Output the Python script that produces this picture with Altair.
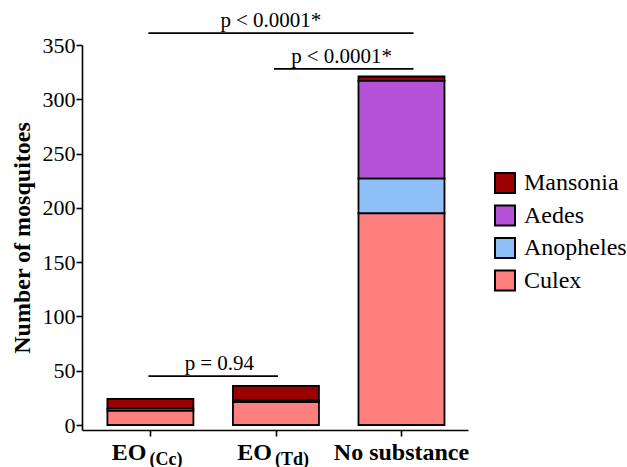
import altair as alt
import pandas as pd

# ---------------- data ----------------
categories = ["EO (Cc)", "EO (Td)", "No substance"]
label_main = ["EO", "EO", "No substance"]
label_sub = ["(Cc)", "(Td)", ""]

species = ["Mansonia", "Aedes", "Anopheles", "Culex"]      # legend order
stack_rank = [3, 2, 1, 0]                                   # 0 = bottom of stack
colors = ["#9B0000", "#B452D8", "#8FBFF7", "#FF7F7F"]

culex = [13, 21, 195]
anopheles = [0, 0, 32]
aedes = [2, 2, 90]
mansonia = [9, 13, 4]

y_ticks = [0, 50, 100, 150, 200, 250, 300, 350]

ann_from = ["EO (Cc)", "EO (Td)", "EO (Cc)"]
ann_to = ["No substance", "No substance", "EO (Td)"]
ann_y = [361, 328, 45]
ann_p = ["p", "p", "p"]
ann_rest = ["< 0.0001*", "< 0.0001*", "= 0.94"]

# ---------------- tables ----------------
counts = {"Culex": culex, "Anopheles": anopheles, "Aedes": aedes, "Mansonia": mansonia}
rows = []
for i, cat in enumerate(categories):
    for sp, rk in zip(species, stack_rank):
        v = counts[sp][i]
        if v > 0:
            rows.append({"category": cat, "idx": i, "species": sp, "rank": rk, "count": v})
bars_df = pd.DataFrame(rows)

lab_df = pd.DataFrame({"idx": list(range(len(categories))), "main": label_main, "sub": label_sub})

ann_df = pd.DataFrame({
    "x_from": [categories.index(c) for c in ann_from],
    "x_to": [categories.index(c) for c in ann_to],
    "y": ann_y, "p": ann_p, "rest": ann_rest,
})
ann_df["mid"] = (ann_df["x_from"] + ann_df["x_to"]) / 2

FONT = "Liberation Serif"
BFONT = "Times New Roman"
xscale = alt.Scale(domain=[-0.505, 2.49], nice=False, zero=False)
yscale = alt.Scale(domain=[-4.6, 350], nice=False, zero=False)

x_axis = alt.Axis(values=[0, 1, 2], labels=False, ticks=True, tickSize=6, tickWidth=1.6,
                  tickColor="black", domainColor="black", domainWidth=1.6, grid=False)
y_axis = alt.Axis(values=y_ticks, grid=False, tickSize=6, tickWidth=1.6, tickColor="black",
                  domainColor="black", domainWidth=1.6, labelFont=FONT, labelFontSize=22,
                  labelColor="black", labelPadding=1, title="Number of mosquitoes",
                  titleFont=BFONT, titleFontSize=24, titleFontWeight="bold", titleColor="black",
                  titleX=-60, titleY=192.5, titleBaseline="middle", titleAngle=270)

bars = alt.Chart(bars_df).mark_bar(size=86, stroke="black", strokeWidth=1.8).encode(
    x=alt.X("idx:Q", scale=xscale, axis=x_axis, title=None),
    y=alt.Y("sum(count):Q", scale=yscale, axis=y_axis, stack="zero"),
    color=alt.Color("species:N",
                    scale=alt.Scale(domain=species, range=colors),
                    legend=alt.Legend(title=None, orient="none", legendX=411, legendY=126,
                                      symbolType="square", symbolSize=400,
                                      symbolStrokeColor="black", symbolStrokeWidth=2,
                                      symbolOpacity=1, labelFont=FONT, labelFontSize=24,
                                      labelColor="black",
                                      labelOffset=7, rowPadding=4.5, labelLimit=300)),
    order=alt.Order("rank:Q", sort="ascending"),
)

layers = [bars]

# significance rules
long_rules = alt.Chart(ann_df).transform_filter("datum.x_to == 2").mark_rule(
    color="black", strokeWidth=1.8, xOffset=-2, x2Offset=12).encode(
    x=alt.X("x_from:Q", scale=xscale), x2="x_to:Q", y=alt.Y("y:Q", scale=yscale))
short_rules = alt.Chart(ann_df).transform_filter("datum.x_to != 2").mark_rule(
    color="black", strokeWidth=1.8, xOffset=-2, x2Offset=2).encode(
    x=alt.X("x_from:Q", scale=xscale), x2="x_to:Q", y=alt.Y("y:Q", scale=yscale))
layers += [long_rules, short_rules]

# significance texts (p + rest, with a gap of about one space)
text_dx = [-45, -37, -18]
GAP = 5
for k in range(len(ann_df)):
    base = alt.Chart(ann_df).transform_filter(f"datum.x_from == {ann_df.x_from[k]} && datum.x_to == {ann_df.x_to[k]}")
    layers.append(base.mark_text(font=FONT, fontSize=21, align="right",
                                 baseline="alphabetic", dx=text_dx[k], dy=-6, color="black").encode(
        x=alt.X("mid:Q", scale=xscale), y=alt.Y("y:Q", scale=yscale), text="p:N"))
    layers.append(base.mark_text(font=FONT, fontSize=21, align="left",
                                 baseline="alphabetic", dx=text_dx[k] + GAP, dy=-6, color="black").encode(
        x=alt.X("mid:Q", scale=xscale), y=alt.Y("y:Q", scale=yscale), text="rest:N"))

# category labels with subscripts
eo_main = alt.Chart(lab_df).transform_filter("datum.sub != ''").mark_text(
    font=BFONT, fontSize=24, fontWeight="bold", align="right", baseline="alphabetic",
    dx=-4, color="black").encode(x=alt.X("idx:Q", scale=xscale), y=alt.value(414.5), text="main:N")
eo_sub = alt.Chart(lab_df).transform_filter("datum.sub != ''").mark_text(
    font=BFONT, fontSize=18, fontWeight="bold", align="left", baseline="alphabetic",
    dx=-1, color="black").encode(x=alt.X("idx:Q", scale=xscale), y=alt.value(419.5), text="sub:N")
ns_main = alt.Chart(lab_df).transform_filter("datum.sub == ''").mark_text(
    font=BFONT, fontSize=24, fontWeight="bold", align="center", baseline="alphabetic",
    color="black").encode(x=alt.X("idx:Q", scale=xscale), y=alt.value(414.5), text="main:N")
layers += [eo_main, eo_sub, ns_main]

chart = alt.layer(*layers).properties(
    width=386, height=385,
    autosize=alt.AutoSizeParams(type="none"),
    padding={"left": 82, "top": 45, "right": 159, "bottom": 37},
).configure_view(stroke=None)

chart.save("out.html", embed_options={"renderer": "svg", "actions": False})
